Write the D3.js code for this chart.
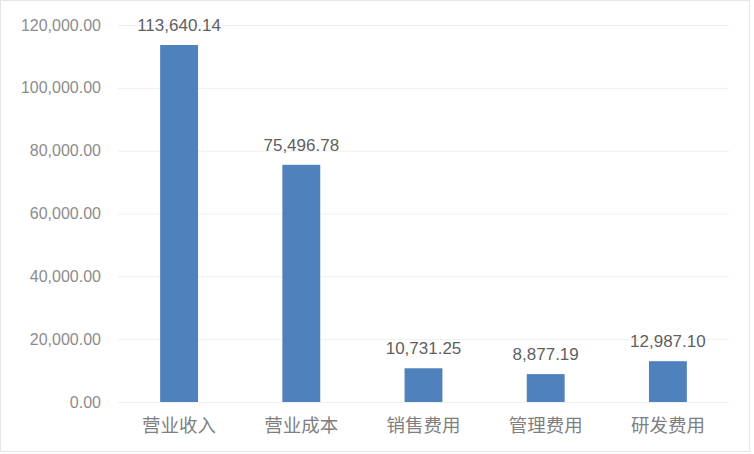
<!DOCTYPE html>
<html>
<head>
<meta charset="utf-8">
<script src="https://cdn.jsdelivr.net/npm/d3@7"></script>
<style>
  html, body { margin: 0; padding: 0; background: #fff; }
  svg { display: block; }
</style>
</head>
<body>
<svg id="chart" width="754" height="454"></svg>
<script>
const categories = ["营业收入", "营业成本", "销售费用", "管理费用", "研发费用"];
const values = [113640.14, 75496.78, 10731.25, 8877.19, 12987.10];
const yTicks = [0, 20000, 40000, 60000, 80000, 100000, 120000];

const width = 754, height = 454;
const margin = {top: 25, right: 25, bottom: 52, left: 118};
const fmt = d3.format(",.2f");
const numFont = "'Liberation Sans', Arial, sans-serif";
const cjkFont = "'Noto Sans CJK SC', sans-serif";

const svg = d3.select("#chart");

// outer border
svg.append("rect")
    .attr("x", 0.5).attr("y", 0.5)
    .attr("width", 749).attr("height", 451)
    .attr("fill", "#fff")
    .attr("stroke", "#e6e6e6");

const x = d3.scaleBand()
    .domain(categories)
    .range([margin.left, width - margin.right]);

const y = d3.scaleLinear()
    .domain([0, 120000])
    .range([height - margin.bottom, margin.top]);

const barW = x.bandwidth() * 0.31;

// y axis with grid lines
const yAxis = g => g
    .attr("transform", `translate(${margin.left},0)`)
    .call(d3.axisLeft(y)
        .tickValues(yTicks)
        .tickFormat(fmt)
        .tickSize(-(width - margin.left - margin.right))
        .tickPadding(17))
    .call(g => g.select(".domain").remove())
    .call(g => g.selectAll(".tick line").attr("stroke", "#efefef").attr("stroke-width", 1))
    .call(g => g.selectAll(".tick text")
        .attr("fill", "#8c8c8c")
        .attr("font-size", 16)
        .attr("font-family", numFont));

svg.append("g").call(yAxis);

// bars
svg.append("g")
    .attr("fill", "#4f81bd")
    .selectAll("rect").data(values).enter().append("rect")
    .attr("x", (d, i) => x(categories[i]) + (x.bandwidth() - barW) / 2)
    .attr("y", d => y(d))
    .attr("width", barW)
    .attr("height", d => y(0) - y(d));

// value labels
svg.append("g")
    .selectAll("text").data(values).enter().append("text")
    .attr("x", (d, i) => x(categories[i]) + x.bandwidth() / 2)
    .attr("y", d => y(d) - 14)
    .attr("text-anchor", "middle")
    .attr("fill", "#5f5f5f")
    .attr("font-size", 17)
    .attr("font-family", numFont)
    .text(d => fmt(d));

// x axis
const xAxis = g => g
    .attr("transform", `translate(0,${height - margin.bottom})`)
    .call(d3.axisBottom(x).tickSize(0).tickPadding(17))
    .call(g => g.select(".domain").remove())
    .call(g => g.selectAll(".tick text")
        .attr("fill", "#7f7f7f")
        .attr("font-size", 18.5)
        .attr("font-family", cjkFont));

svg.append("g").call(xAxis);
</script>
</body>
</html>
